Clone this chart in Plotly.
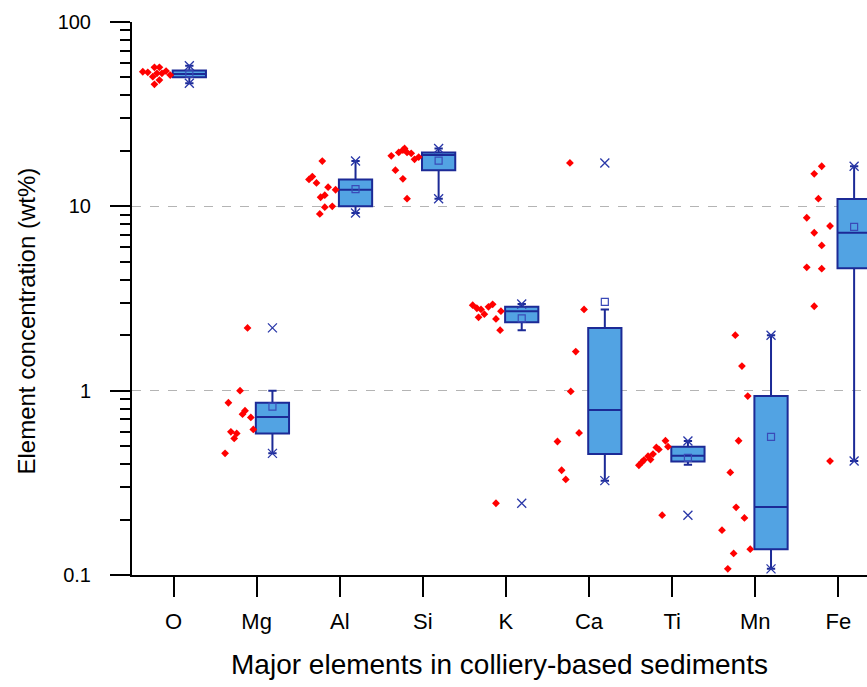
import plotly.graph_objects as go

elements = ["O", "Mg", "Al", "Si", "K", "Ca", "Ti", "Mn", "Fe"]

# box statistics (wt%)
box_q1 = [50.2, 0.586, 10.0, 15.7, 2.35, 0.453, 0.413, 0.138, 4.61]
box_median = [52.2, 0.72, 12.3, 19.0, 2.70, 0.785, 0.443, 0.234, 7.2]
box_q3 = [54.5, 0.86, 14.0, 19.6, 2.85, 2.19, 0.497, 0.935, 10.96]
whisker_low = [46.5, 0.457, 9.2, 11.0, 2.13, 0.325, 0.396, 0.108, 0.415]
whisker_high = [57.9, 1.0, 17.6, 20.6, 2.95, 2.76, 0.533, 2.0, 16.5]
mean_vals = [52.5, 0.82, 12.4, 17.7, 2.47, 3.03, 0.432, 0.562, 7.74]
min_vals = [46.5, 0.457, 9.2, 11.0, 0.245, 0.325, 0.211, 0.108, 0.415]
max_vals = [57.9, 2.19, 17.6, 20.6, 2.95, 17.2, 0.533, 2.0, 16.5]

# individual samples per element
O_vals = [53.7, 53.3, 50.5, 56.8, 56.8, 52.7, 52.7, 54.2, 51.5, 48.4, 45.9]
Mg_vals = [1.0, 0.86, 0.778, 0.746, 0.716, 0.616, 0.598, 0.586, 0.551, 0.457, 2.19]
Al_vals = [17.6, 14.5, 14.0, 13.4, 12.7, 12.3, 11.5, 11.2, 9.9, 10.0, 9.1]
Si_vals = [18.8, 19.6, 20.2, 20.6, 19.6, 19.4, 18.0, 18.5, 15.7, 14.1, 11.0]
K_vals = [2.91, 2.76, 2.85, 2.94, 2.80, 2.70, 2.60, 2.50, 2.45, 2.13, 0.245]
Ca_vals = [17.2, 2.76, 1.63, 0.99, 0.59, 0.53, 0.37, 0.33]
Ti_vals = [0.394, 0.411, 0.42, 0.441, 0.423, 0.453, 0.492, 0.48, 0.535, 0.497, 0.211]
Mn_vals = [1.36, 0.935, 0.535, 0.36, 0.233, 0.204, 0.175, 0.131, 0.138, 0.108, 2.0]
Fe_vals = [16.5, 15.0, 11.0, 8.67, 7.82, 7.19, 6.14, 4.67, 4.59, 2.87, 0.415]

# horizontal scatter of the sample points (category units)
O_jit = [-0.37, -0.31, -0.25, -0.23, -0.17, -0.20, -0.14, -0.09, -0.04, -0.17, -0.23]
Mg_jit = [-0.20, -0.34, -0.14, -0.17, -0.07, -0.04, -0.31, -0.24, -0.27, -0.38, -0.11]
Al_jit = [-0.21, -0.33, -0.37, -0.28, -0.14, -0.05, -0.18, -0.23, -0.18, -0.09, -0.24]
Si_jit = [-0.38, -0.29, -0.24, -0.22, -0.19, -0.14, -0.10, -0.05, -0.33, -0.24, -0.19]
K_jit = [-0.40, -0.30, -0.21, -0.16, -0.35, -0.06, -0.26, -0.33, -0.12, -0.07, -0.12]
Ca_jit = [-0.23, -0.06, -0.16, -0.22, -0.12, -0.38, -0.33, -0.28]
Ti_jit = [-0.40, -0.36, -0.34, -0.29, -0.26, -0.23, -0.19, -0.16, -0.08, -0.05, -0.12]
Mn_jit = [-0.16, -0.09, -0.20, -0.30, -0.23, -0.13, -0.40, -0.26, -0.06, -0.33, -0.24]
Fe_jit = [-0.20, -0.29, -0.24, -0.38, -0.10, -0.29, -0.20, -0.38, -0.20, -0.29, -0.10]

samples = [O_vals, Mg_vals, Al_vals, Si_vals, K_vals, Ca_vals, Ti_vals, Mn_vals, Fe_vals]
jitters = [O_jit, Mg_jit, Al_jit, Si_jit, K_jit, Ca_jit, Ti_jit, Mn_jit, Fe_jit]

BOX_SHIFT = 0.19
NAVY = "#1c2a96"
FILL = "#52a3e3"
FONT = "Arial, Liberation Sans, sans-serif"

pos = list(range(len(elements)))
box_x = [p + BOX_SHIFT for p in pos]

fig = go.Figure()

dot_x, dot_y = [], []
for p, vals, jit in zip(pos, samples, jitters):
    for v, j in zip(vals, jit):
        dot_x.append(p + j)
        dot_y.append(v)

fig.add_trace(go.Scatter(
    x=dot_x, y=dot_y, mode="markers",
    marker=dict(symbol="diamond", size=6, color="#ff0000", line=dict(width=0)),
    showlegend=False, hoverinfo="y"))

fig.add_trace(go.Box(
    x=box_x, q1=box_q1, median=box_median, q3=box_q3,
    lowerfence=whisker_low, upperfence=whisker_high,
    width=0.4, whiskerwidth=0.25,
    fillcolor=FILL, line=dict(color=NAVY, width=2),
    boxpoints=False, showlegend=False))

fig.add_trace(go.Scatter(
    x=box_x, y=mean_vals, mode="markers",
    marker=dict(symbol="square-open", size=7, color="#3a4ab8", line=dict(width=1.2)),
    showlegend=False))

fig.add_trace(go.Scatter(
    x=box_x + box_x, y=min_vals + max_vals, mode="markers",
    marker=dict(symbol="x-thin-open", size=9, color="#2a38a8", line=dict(width=1.3)),
    showlegend=False))

fig.update_layout(
    width=867, height=687,
    margin=dict(l=132, r=0, t=22, b=112),
    paper_bgcolor="white", plot_bgcolor="white",
    font=dict(family=FONT, size=20, color="black"),
    xaxis=dict(
        type="linear", range=[-0.5, 8.345],
        tickvals=pos, ticktext=elements,
        ticks="outside", ticklen=20, tickwidth=2, tickcolor="black",
        showline=True, linewidth=2, linecolor="black",
        showgrid=False, zeroline=False,
        tickfont=dict(size=22),
        ticklabelstandoff=6,
        title=dict(text="Major elements in colliery-based sediments",
                   font=dict(size=28), standoff=21),
    ),
    yaxis=dict(
        type="log", range=[-1, 2], dtick=1,
        tickvals=[0.1, 1, 10, 100], ticktext=["0.1", "1", "10", "100"],
        ticks="outside", ticklen=20, tickwidth=2, tickcolor="black",
        showline=True, linewidth=2, linecolor="black",
        showgrid=True, gridcolor="#b4b4b4", gridwidth=1, griddash="dash",
        zeroline=False,
        minor=dict(ticks="outside", ticklen=10, tickwidth=2, tickcolor="black",
                   dtick="D1", showgrid=False),
        tickfont=dict(size=20),
        ticklabelstandoff=15,
    ),
    annotations=[dict(
        text="Element concentration (wt%)", textangle=-90,
        xref="paper", yref="paper", x=-0.143, y=0.46,
        xanchor="center", yanchor="middle", showarrow=False,
        font=dict(size=24),
    )],
)

fig.write_html("out.html")
